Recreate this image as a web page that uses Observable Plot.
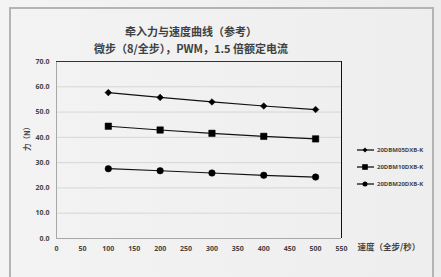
<!DOCTYPE html>
<html><head><meta charset="utf-8">
<script src="https://cdn.jsdelivr.net/npm/d3@7"></script>
<script src="https://cdn.jsdelivr.net/npm/@observablehq/plot@0.6"></script>
<style>
html,body{margin:0;padding:0;}
body{width:441px;height:277px;overflow:hidden;background:linear-gradient(90deg,#f4f4f4,#ececec);font-family:"Noto Sans CJK SC","Open Sans",sans-serif;}
#wrap{position:relative;width:441px;height:277px;}
#box{position:absolute;left:9px;top:7px;width:425px;height:280px;border:2px solid #b4b4b4;background:linear-gradient(90deg,#f3f3f3,#eeeeee);box-sizing:border-box;}
#chart{position:absolute;left:0;top:0;}
.t{position:absolute;color:#404040;font-weight:bold;white-space:nowrap;}
#legend{position:absolute;left:357px;top:141px;}
.li{display:flex;align-items:center;height:17px;font-family:"Liberation Sans Narrow","Open Sans",sans-serif;font-size:6px;color:#444;font-weight:bold;}
</style></head><body>
<div id="wrap"><div id="box"></div><div id="chart"></div>
<div class="t" style="left:0;width:382px;text-align:center;top:23px;font-size:11px;">牵入力与速度曲线（参考）</div>
<div class="t" style="left:0;width:382px;text-align:center;top:40px;font-size:11px;">微步（8/全步），PWM，1.5 倍额定电流</div>
<div id="legend"></div>
</div>
<script>
const speeds = [100, 200, 300, 400, 500];
const seriesNames = ["20DBM05DXB-K", "20DBM10DXB-K", "20DBM20DXB-K"];
const force05 = [57.7, 55.8, 54.0, 52.4, 51.0];
const force10 = [44.4, 42.9, 41.6, 40.4, 39.4];
const force20 = [27.6, 26.8, 25.9, 25.0, 24.3];
const symbols = ["diamond2", "square", "circle"];
const xTicks = d3.range(0, 551, 50);
const yTicks = d3.range(0, 71, 10);

const allSeries = [force05, force10, force20];
const data = [];
allSeries.forEach((vals, i) => speeds.forEach((s, j) => data.push({series: seriesNames[i], speed: s, force: vals[j]})));

const chart = Plot.plot({
  width: 441, height: 277,
  marginLeft: 56, marginRight: 100, marginTop: 61, marginBottom: 39,
  style: {background: "transparent", fontFamily: "'Open Sans',sans-serif"},
  x: {domain: [0, 550], ticks: xTicks, tickSize: 0, tickPadding: 8, label: null},
  y: {domain: [0, 70], ticks: yTicks, tickSize: 0, tickPadding: 7, tickFormat: d3.format(".1f"), label: null},
  symbol: {domain: seriesNames, range: symbols},
  marks: [
    Plot.ruleY(yTicks.filter(d => d > 0 && d < 70), {stroke: "#d6d6d6", strokeWidth: 1}),
    Plot.ruleY([0], {stroke: "#a8a8a8"}),
    Plot.ruleX([0], {stroke: "#a8a8a8"}),
    Plot.ruleY([70], {stroke: "#333"}),
    Plot.ruleX([550], {stroke: "#111"}),
    Plot.axisX({ticks: xTicks, tickSize: 0, tickPadding: 8, fontSize: 7, fontWeight: "bold", fill: "#444", label: null}),
    Plot.axisY({ticks: yTicks, tickSize: 0, tickPadding: 7, tickFormat: d3.format(".1f"), fontSize: 7, fontWeight: "bold", fill: "#444", label: null}),
    Plot.line(data, {x: "speed", y: "force", z: "series", stroke: "#111", strokeWidth: 1.2}),
    Plot.dot(data, {x: "speed", y: "force", symbol: "series", fill: "#000", stroke: "#000", strokeWidth: 0.5, r: d => d.series === seriesNames[0] ? 2.1 : d.series === seriesNames[1] ? 3.1 : 2.5}),
    Plot.text(["力（N）"], {frameAnchor: "left", dx: -29, rotate: -90, fontSize: 7.5, fontWeight: "bold", fill: "#444", fontFamily: "'Noto Sans CJK SC'", dy: 1}),
    Plot.text(["速度（全步/秒）"], {frameAnchor: "bottom-right", textAnchor: "start", dx: 16, dy: 11, fontSize: 8.5, fontWeight: "bold", fill: "#444", fontFamily: "'Noto Sans CJK SC'"})
  ]
});
document.getElementById("chart").appendChild(chart);

const lg = document.getElementById("legend");
const shapes = {
  diamond2: '<path d="M8,0.6L10.4,3L8,5.4L5.6,3Z" fill="#000"/>',
  square: '<rect x="5.2" y="0.2" width="5.6" height="5.6" fill="#000"/>',
  circle: '<circle cx="8" cy="3" r="2.5" fill="#000"/>'
};
seriesNames.forEach((name, i) => {
  const d = document.createElement("div");
  d.className = "li";
  d.innerHTML = `<svg width="18" height="6" style="margin-right:2px"><line x1="0" y1="3" x2="17" y2="3" stroke="#000" stroke-width="1.2"/>${shapes[symbols[i]]}</svg><span>${name}</span>`;
  lg.appendChild(d);
});
</script>
</body></html>
